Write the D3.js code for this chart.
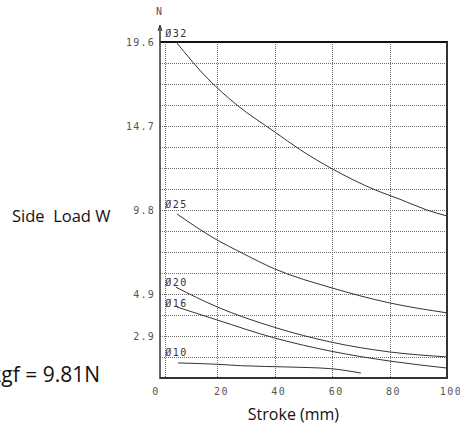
<!DOCTYPE html>
<html><head><meta charset="utf-8">
<script src="https://cdn.jsdelivr.net/npm/d3@7"></script>
<style>html,body{margin:0;padding:0;background:#fff;overflow:hidden}</style>
</head><body>
<svg id="c" width="460" height="426"></svg>
<script>
// ---- data ----
const xTicks = [0, 20, 40, 60, 80, 100];
const xTickLabels = ["0", "20", "40", "60", "80", "100"];
const yTicks = [2.45, 4.9, 9.8, 14.7, 19.6];
const yTickLabels = ["2.9", "4.9", "9.8", "14.7", "19.6"];
const seriesNames = ["Ø32", "Ø25", "Ø20", "Ø16", "Ø10"];
const labelY = [20.13, 10.15, 5.6, 4.4, 1.5];
const d32 = [[5.6,19.6],[16.7,17.45],[27,15.9],[40,14.35],[49,13.3],[60,12.2],[75,10.97],[84,10.4],[93,9.8],[100,9.45]];
const d25 = [[5.9,9.57],[19.9,8.05],[27.9,7.35],[40,6.36],[60,5.25],[80,4.38],[100,3.8]];
const d20 = [[5.5,5.3],[20,4.14],[40,2.95],[60,2.08],[80,1.52],[100,1.23]];
const d16 = [[5.9,4.14],[20,3.38],[40,2.33],[60,1.55],[80,0.99],[100,0.58]];
const d10 = [[6.3,0.88],[20,0.8],[28,0.72],[45,0.64],[59,0.55],[70,0.29]];
const seriesData = [d32, d25, d20, d16, d10];
const gridStep = 1.225;

// ---- chart ----
const svg = d3.select("#c");
const x = d3.scaleLinear().domain([0, 100]).range([160, 447]);
const y = d3.scaleLinear().domain([0, 19.6]).range([378, 42]);
const tickFont = "'DejaVu Sans Mono', monospace";

// grid
const hGrid = d3.range(1, 16).map(i => i * gridStep);
svg.append("g").selectAll("line").data(hGrid).join("line")
  .attr("x1", x(0)).attr("x2", x(100))
  .attr("y1", d => Math.round(y(d)) + 0.5).attr("y2", d => Math.round(y(d)) + 0.5)
  .attr("stroke", "#6d6d6d").attr("stroke-width", 1).attr("stroke-dasharray", "1,1");
const vGrid = [1.8, 20, 40, 60, 80];
svg.append("g").selectAll("line").data(vGrid).join("line")
  .attr("x1", d => Math.round(x(d)) + 0.5).attr("x2", d => Math.round(x(d)) + 0.5)
  .attr("y1", y(19.6)).attr("y2", y(0))
  .attr("stroke", "#6d6d6d").attr("stroke-width", 1).attr("stroke-dasharray", "1,1");

// frame
svg.append("line").attr("x1", x(0)).attr("x2", x(100) + 1).attr("y1", y(19.6)).attr("y2", y(19.6))
  .attr("stroke", "#111").attr("stroke-width", 2);
svg.append("line").attr("x1", x(100)).attr("x2", x(100)).attr("y1", y(19.6)).attr("y2", y(0))
  .attr("stroke", "#333").attr("stroke-width", 2);
svg.append("line").attr("x1", x(0)).attr("x2", x(100) + 1).attr("y1", y(0)).attr("y2", y(0))
  .attr("stroke", "#333").attr("stroke-width", 2);
svg.append("line").attr("x1", x(0)).attr("x2", x(0)).attr("y1", 26).attr("y2", y(0) + 1)
  .attr("stroke", "#333").attr("stroke-width", 1.5);
svg.append("path").attr("d", `M${x(0)-2},31 L${x(0)},25 L${x(0)+2},31`)
  .attr("fill", "none").attr("stroke", "#333").attr("stroke-width", 1);
svg.append("text").attr("x", x(0) - 1).attr("y", 15).attr("text-anchor", "middle")
  .attr("font-family", tickFont).attr("font-size", 10).attr("fill", "#555").text("N");

// y tick labels
svg.append("g").selectAll("text").data(yTicks).join("text")
  .attr("x", 155).attr("y", d => y(d) + 3.5).attr("text-anchor", "end")
  .attr("font-family", tickFont).attr("font-size", 10).attr("letter-spacing", "1.2px")
  .attr("fill", "#555").text((d, i) => yTickLabels[i]);

// x tick labels
svg.append("g").selectAll("text").data(xTicks).join("text")
  .attr("x", (d, i) => x(d) + (i === 0 ? -4 : 4)).attr("y", 395).attr("text-anchor", "middle")
  .attr("font-family", tickFont).attr("font-size", 10).attr("letter-spacing", "1.5px")
  .attr("fill", "#555").text((d, i) => xTickLabels[i]);

// curves
const line = d3.line().x(d => x(d[0])).y(d => y(d[1])).curve(d3.curveMonotoneX);
svg.append("g").selectAll("path").data(seriesData).join("path")
  .attr("d", line).attr("fill", "none").attr("stroke", "#333").attr("stroke-width", 1);

// curve labels
svg.append("g").selectAll("text").data(seriesNames).join("text")
  .attr("x", x(1.8)).attr("y", (d, i) => y(labelY[i]) + 4)
  .attr("font-family", tickFont).attr("font-size", 10).attr("letter-spacing", "1.5px")
  .attr("fill", "#333").text(d => d);

// axis titles
const titleFont = "'Open Sans', sans-serif";
svg.append("text").attr("x", x(46.5)).attr("y", 420).attr("text-anchor", "middle")
  .attr("font-family", titleFont).attr("font-size", 16).attr("fill", "#111").text("Stroke (mm)");
svg.append("text").attr("x", 12).attr("y", 222)
  .attr("font-family", titleFont).attr("font-size", 16.5).attr("fill", "#111")
  .attr("xml:space", "preserve").attr("style", "white-space:pre").text("Side  Load W");
svg.append("text").attr("x", 100).attr("y", 382).attr("text-anchor", "end")
  .attr("font-family", titleFont).attr("font-size", 21).attr("fill", "#111").text("1kgf = 9.81N");
</script>
</body></html>
